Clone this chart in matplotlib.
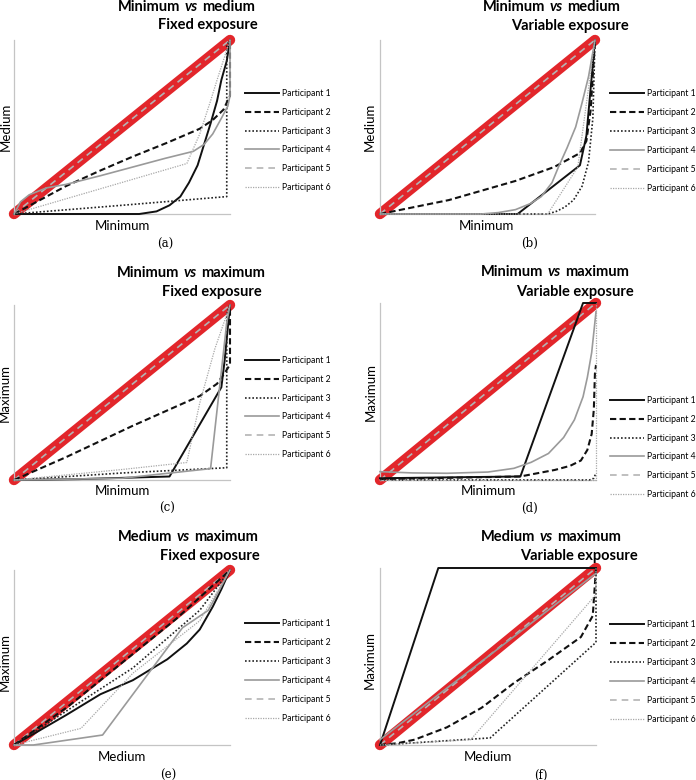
import matplotlib.pyplot as plt

plt.rcParams['font.family'] = ['Lato', 'DejaVu Sans']

W, H = 696, 780

names = ['Participant 1', 'Participant 2', 'Participant 3',
         'Participant 4', 'Participant 5', 'Participant 6']
diag = [0, 1]

# (a) minimum vs medium, fixed exposure
a_p1 = ([0, 0.58, 0.66, 0.72, 0.77, 0.81, 0.85, 0.88, 0.91, 0.94, 0.96, 0.985, 1.0],
        [0, 0, 0.015, 0.05, 0.1, 0.18, 0.28, 0.4, 0.52, 0.65, 0.77, 0.88, 1.0])
a_p2 = ([0, 0.09, 0.24, 0.4, 0.55, 0.71, 0.86, 0.92, 0.97, 1.0, 1.0],
        [0, 0.06, 0.16, 0.25, 0.33, 0.41, 0.49, 0.54, 0.6, 0.68, 1.0])
a_p3 = ([0, 0.5, 0.985, 0.985, 1.0], [0, 0.05, 0.1, 0.97, 1.0])
a_p4 = ([0, 0.03, 0.07, 0.15, 0.24, 0.4, 0.55, 0.7, 0.83, 0.88, 0.92, 0.96, 0.99, 1.0, 1.0],
        [0, 0.07, 0.11, 0.15, 0.17, 0.22, 0.27, 0.32, 0.36, 0.4, 0.46, 0.55, 0.62, 0.68, 1.0])
a_p6 = ([0, 0.8, 0.86, 0.91, 0.94, 1.0], [0, 0.29, 0.46, 0.65, 0.77, 1.0])

# (b) minimum vs medium, variable exposure
b_p1 = ([0, 0.64, 0.93, 0.96, 1.0], [0, 0, 0.28, 0.45, 1.0])
b_p2 = ([0, 0.32, 0.63, 0.81, 0.93, 0.96, 0.98, 1.0],
        [0, 0.08, 0.19, 0.27, 0.35, 0.42, 0.6, 1.0])
b_p3 = ([0, 0.78, 0.82, 0.86, 0.9, 0.94, 0.97, 0.99, 1.0],
        [0, 0, 0.015, 0.04, 0.08, 0.16, 0.3, 0.55, 1.0])
b_p4 = ([0, 0.47, 0.55, 0.63, 0.7, 0.75, 0.8, 0.83, 0.87, 0.91, 0.94, 0.97, 1.0],
        [0, 0, 0.008, 0.025, 0.06, 0.1, 0.18, 0.27, 0.38, 0.5, 0.64, 0.79, 1.0])
b_p6 = ([0, 0.78, 0.92, 1.0], [0, 0, 0.27, 1.0])

# (c) minimum vs maximum, fixed exposure
c_p1 = ([0, 0.3, 0.72, 0.96, 0.975, 1.0], [0, 0.005, 0.02, 0.53, 0.68, 1.0])
c_p2 = ([0, 0.24, 0.55, 0.86, 0.94, 0.98, 1.0, 1.0],
        [0, 0.13, 0.31, 0.48, 0.55, 0.62, 0.66, 1.0])
c_p3 = ([0, 0.5, 0.985, 0.985, 1.0], [0, 0.04, 0.07, 0.95, 1.0])
c_p4 = ([0, 0.5, 0.91, 0.985, 1.0], [0, 0.01, 0.065, 0.9, 1.0])
c_p6 = ([0, 0.5, 0.8, 0.86, 0.93, 1.0], [0, 0.06, 0.1, 0.44, 0.75, 1.0])

# (d) minimum vs maximum, variable exposure
d_p1 = ([0, 0.65, 0.94, 1.0], [0.01, 0.02, 1.0, 1.0])
d_p2 = ([0, 0.65, 0.81, 0.88, 0.93, 0.96, 0.98, 0.99, 0.995, 1.0],
        [0.005, 0.02, 0.057, 0.08, 0.11, 0.17, 0.26, 0.4, 0.6, 0.65])
d_p3 = ([0, 0.97, 0.99, 1.0], [0, 0, 0.01, 0.04])
d_p4 = ([0, 0.15, 0.31, 0.5, 0.62, 0.7, 0.78, 0.85, 0.9, 0.94, 0.96, 0.98, 1.0],
        [0.047, 0.04, 0.038, 0.045, 0.066, 0.1, 0.15, 0.24, 0.34, 0.47, 0.58, 0.72, 0.95])
d_p6 = ([0, 1.0, 1.0], [0, 0, 1.0])

# (e) medium vs maximum, fixed exposure
e_p1 = ([0, 0.1, 0.24, 0.4, 0.55, 0.71, 0.8, 0.86, 0.92, 0.96, 1.0],
        [0, 0.07, 0.17, 0.29, 0.37, 0.49, 0.58, 0.66, 0.79, 0.89, 1.0])
e_p2 = ([0, 0.25, 0.5, 0.75, 1.0], [0, 0.22, 0.47, 0.72, 1.0])
e_p3 = ([0, 0.3, 0.55, 0.86, 1.0], [0, 0.24, 0.44, 0.77, 1.0])
e_p4 = ([0, 0.09, 0.41, 0.78, 0.9, 1.0], [0, 0, 0.057, 0.67, 0.77, 1.0])
e_p6 = ([0, 0.31, 0.55, 0.86, 1.0], [0, 0.095, 0.41, 0.71, 1.0])

# (f) medium vs maximum, variable exposure
f_p1 = ([0, 0.27, 1.0], [0, 1.0, 1.0])
f_p2 = ([0, 0.08, 0.16, 0.31, 0.47, 0.62, 0.78, 0.93, 0.985, 1.0],
        [0, 0.01, 0.03, 0.1, 0.21, 0.35, 0.48, 0.61, 0.73, 1.0])
f_p3 = ([0, 0.51, 1.0, 1.0], [0, 0.04, 0.58, 1.0])
f_p4 = ([0, 1.0], [0.03, 0.97])
f_p6 = ([0, 0.42, 1.0, 1.0], [0, 0.03, 0.85, 1.0])

styles = [
    dict(color='#111111', lw=1.4, ls='-'),
    dict(color='#111111', lw=1.5, ls=(0, (3, 1.6))),
    dict(color='#222222', lw=1.2, ls=(0, (1, 1.2))),
    dict(color='#9a9a9a', lw=1.2, ls='-'),
    dict(color='#b4b4b4', lw=1.2, ls=(0, (4, 3))),
    dict(color='#a8a8a8', lw=0.9, ls=(0, (1, 1))),
]

fig = plt.figure(figsize=(W / 100, H / 100), dpi=100)


def fx(x):
    return x / W


def fy(y):
    return 1 - y / H


def panel(box, series, words, sub, t1, t2, xlab, xl, ylab, yl, leg, cap, cp):
    l, t, r, b = box
    ax = fig.add_axes([fx(l), fy(b), (r - l) / W, (b - t) / H])
    ax.plot(diag, diag, color='#e2262b', lw=7.5, solid_capstyle='round',
            clip_on=False, zorder=1)
    handles = []
    for i, s in enumerate(series):
        if s is None:
            xs, ys = diag, diag
        else:
            xs, ys = s
        ln, = ax.plot(xs, ys, clip_on=False, zorder=3 if i != 4 else 2, **styles[i])
        handles.append(ln)
    ax.set_xlim(0, 1)
    ax.set_ylim(0, 1)
    ax.set_xticks([])
    ax.set_yticks([])
    for sp in ['top', 'right']:
        ax.spines[sp].set_visible(False)
    for sp in ['left', 'bottom']:
        ax.spines[sp].set_color('#c4c4c4')
        ax.spines[sp].set_linewidth(0.9)
    ax.legend(handles, names, loc='center left', bbox_to_anchor=(fx(leg[0]), fy(leg[1])),
              bbox_transform=fig.transFigure, frameon=False, fontsize=6.2,
              handlelength=3.9, handletextpad=0.45, labelspacing=1.15,
              borderpad=0, borderaxespad=0)

    # two-line title with italic "vs"
    tt = fig.text(fx(t1[0]), fy(t1[1]), words[0], ha='left', va='center',
                  fontsize=10.5, fontweight='bold')
    tv = ax.annotate('vs', xy=(1, 0), xycoords=tt, xytext=(3, 0), textcoords='offset points',
                     ha='left', va='bottom', fontsize=10.5, fontweight='bold',
                     fontstyle='italic', annotation_clip=False)
    ax.annotate(words[2], xy=(1, 0), xycoords=tv, xytext=(3, 0), textcoords='offset points',
                ha='left', va='bottom', fontsize=10.5, fontweight='bold',
                annotation_clip=False)
    fig.text(fx(t2[0]), fy(t2[1]), sub, ha='left', va='center',
             fontsize=10.5, fontweight='bold')

    fig.text(fx(xl[0]), fy(xl[1]), xlab, ha='center', va='center', fontsize=9.5)
    fig.text(fx(yl[0]), fy(yl[1]), ylab, ha='center', va='center', fontsize=9.5,
             rotation=90)
    fig.text(fx(cp[0]), fy(cp[1]), cap, ha='center', va='center', fontsize=8.5,
             family='DejaVu Serif')


panel((14, 40, 230, 214), [a_p1, a_p2, a_p3, a_p4, None, a_p6],
      ('Minimum', 'vs', 'medium'), 'Fixed exposure', (118, 7), (158, 25),
      'Minimum', (122, 226), 'Medium', (6, 127), (245, 140.5), '(a)', (165, 244))
panel((380, 40, 595, 214), [b_p1, b_p2, b_p3, b_p4, None, b_p6],
      ('Minimum', 'vs', 'medium'), 'Variable exposure', (483, 7), (511, 26),
      'Minimum', (486, 226), 'Medium', (370, 127), (610, 141), '(b)', (530, 243))
panel((14, 305, 230, 480), [c_p1, c_p2, c_p3, c_p4, None, c_p6],
      ('Minimum', 'vs', 'maximum'), 'Fixed exposure', (117, 273), (162, 292),
      'Minimum', (122, 491), 'Maximum', (5, 393), (245, 407.5), '(c)', (167, 508))
panel((380, 303, 596, 480), [d_p1, d_p2, d_p3, d_p4, None, d_p6],
      ('Minimum', 'vs', 'maximum'), 'Variable exposure', (481, 272), (516, 292),
      'Minimum', (488, 491), 'Maximum', (371, 392), (610, 447.5), '(d)', (530, 508))
panel((14, 570, 230, 745), [e_p1, e_p2, e_p3, e_p4, None, e_p6],
      ('Medium', 'vs', 'maximum'), 'Fixed exposure', (118, 537), (160, 556),
      'Medium', (122, 757), 'Maximum', (5, 662), (245, 671), '(e)', (168, 775))
panel((380, 568, 596, 745), [f_p1, f_p2, f_p3, f_p4, None, f_p6],
      ('Medium', 'vs', 'maximum'), 'Variable exposure', (481, 537), (520, 556),
      'Medium', (488, 757), 'Maximum', (370, 660), (610, 672), '(f)', (541, 775))

fig.savefig('out.png', dpi=100)
